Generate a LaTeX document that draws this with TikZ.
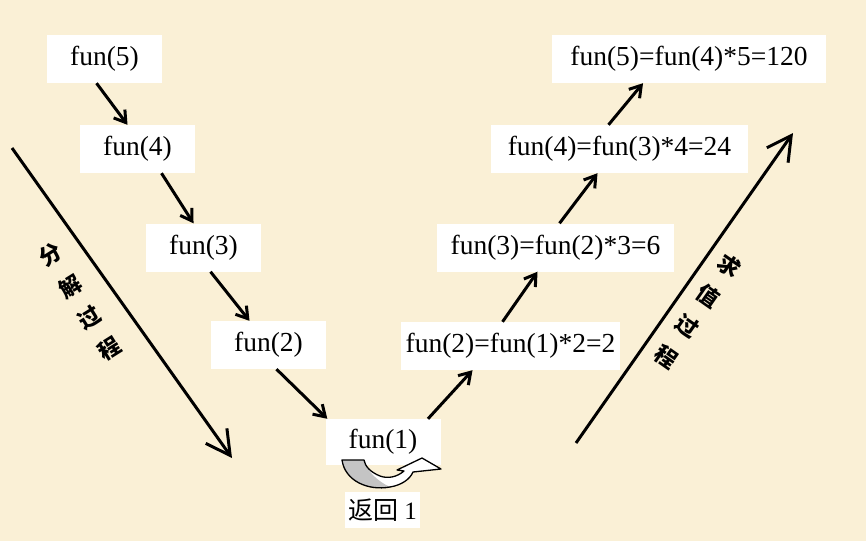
\documentclass[tikz,border=0pt]{standalone}
\usepackage{fontspec}
\setmainfont{Liberation Serif}
\newfontfamily\cjk{Noto Sans CJK SC}
\newfontfamily\cjkheavy{Noto Sans CJK SC Black}
\usetikzlibrary{arrows.meta}
\definecolor{paper}{RGB}{250,240,214}
\definecolor{bandgray}{RGB}{196,196,196}
\tikzset{
    funbox/.style={fill=white, inner sep=0pt, minimum width=#1, minimum height=48pt,
                font=\fontsize{27.5}{32}\selectfont},
    callarr/.style={-{Straight Barb[length=11pt, width=14pt]}, line width=3pt},
    phasearr/.style={-{Straight Barb[length=24pt, width=26pt]}, line width=3pt},
    phaselbl/.style={font=\cjkheavy\fontsize{22}{37}\selectfont, align=center, inner sep=0pt},
}

\begin{document}
\begin{tikzpicture}[x=1pt, y=-1pt]

    \fill[paper] (0,0) rectangle (866,541);
    \useasboundingbox (0,0) rectangle (866,541);

    % descending calls
    \node[funbox=115pt] (f5) at (104.5, 59) {fun(5)};
    \node[funbox=115pt] (f4) at (137.5, 149) {fun(4)};
    \node[funbox=115pt] (f3) at (203.5, 247.5) {fun(3)};
    \node[funbox=115pt] (f2) at (268.5, 345) {fun(2)};
    \node[funbox=115pt, minimum height=46pt] (f1) at (383, 442) {fun(1)};

    \draw[callarr] ([xshift=-8pt]f5.south) -- ([xshift=-10pt]f4.north);
    \draw[callarr] ([xshift=24pt]f4.south) -- ([xshift=-10pt]f3.north);
    \draw[callarr] ([xshift=7pt]f3.south) -- ([xshift=-19pt]f2.north);
    \draw[callarr] ([xshift=8pt]f2.south) -- ([xshift=2pt]f1.north west);

    % returning values
    \node[funbox=219pt] (r2) at (510.5, 346) {fun(2)=fun(1)*2=2};
    \node[funbox=237pt] (r3) at (555.5, 247.5) {fun(3)=fun(2)*3=6};
    \node[funbox=257pt] (r4) at (619.5, 149) {fun(4)=fun(3)*4=24};
    \node[funbox=274pt] (r5) at (689, 59) {fun(5)=fun(4)*5=120};

    \draw[callarr] ([xshift=45pt]f1.north) -- ([xshift=-38pt]r2.south);
    \draw[callarr] ([xshift=-8pt]r2.north) -- ([xshift=-18pt]r3.south);
    \draw[callarr] ([xshift=4pt]r3.north) -- ([xshift=-22pt]r4.south);
    \draw[callarr] ([xshift=-11pt]r4.north) -- ([xshift=-46pt]r5.south);

    % turn-around arrow under fun(1)
    \fill[white] (342,460) .. controls (345,481) and (368,491) .. (390,487)
        .. controls (402,485) and (410,479) .. (413,472) -- (441,469) -- (422,458)
        -- (397,470) -- (404,471) .. controls (397,477) and (388,479) .. (380,476)
        .. controls (370,472) and (365,466) .. (364,460) -- cycle;
    \fill[bandgray] (342,460) .. controls (345,481) and (368,491) .. (390,487)
        .. controls (379,482) and (367,472) .. (364,460) -- cycle;
    \draw[line width=1.3pt, line join=round] (342,460) .. controls (345,481) and (368,491) .. (390,487)
        .. controls (402,485) and (410,479) .. (413,472) -- (441,469) -- (422,458)
        -- (397,470) -- (404,471) .. controls (397,477) and (388,479) .. (380,476)
        .. controls (370,472) and (365,466) .. (364,460) -- cycle;
    \node[fill=white, inner sep=0pt, minimum width=75pt, minimum height=36pt,
          font=\fontsize{25}{30}\selectfont] (ret) at (382.5, 510) {{\cjk 返回} 1};

    % phase arrows
    \coordinate (splitA) at (12, 148);
    \coordinate (splitB) at (232, 458);
    \coordinate (evalA) at (576, 443);
    \coordinate (evalB) at (793, 133);
    \draw[phasearr] (splitA) -- (splitB);
    \draw[phasearr] (evalA) -- (evalB);
    \node[phaselbl, rotate=32] (split) at (80, 302) {分\\解\\过\\程};
    \node[phaselbl, rotate=-35] (eval) at (698, 311) {求\\值\\过\\程};

\end{tikzpicture}
\end{document}
